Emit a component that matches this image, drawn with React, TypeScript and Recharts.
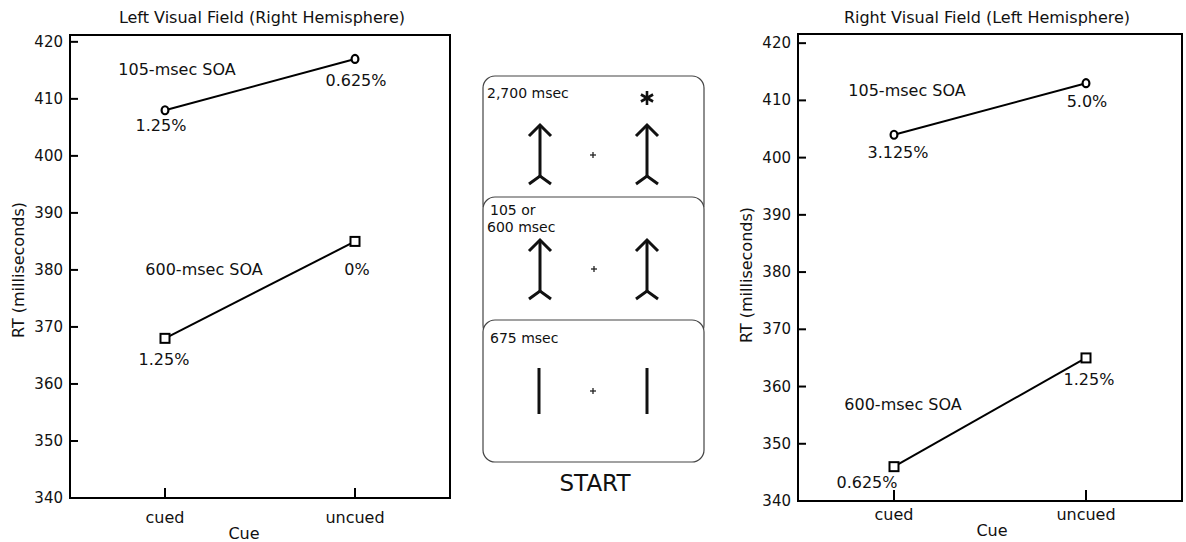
import React from 'react';
import { LineChart, Line, XAxis, YAxis, ReferenceArea } from 'recharts';

const FONT = '"DejaVu Sans", sans-serif';
const INK = '#111';

// shared axis values
const cues = ['cued', 'uncued'];
const cueIdx = [0, 1];
const rtTicks = [340, 350, 360, 370, 380, 390, 400, 410, 420];
const soaNames = ['105-msec SOA', '600-msec SOA'];

// left visual field (right hemisphere), RT in ms
const leftShort = [408, 417];
const leftLong = [368, 385];
const leftShortErr = ['1.25%', '0.625%'];
const leftLongErr = ['1.25%', '0%'];

// right visual field (left hemisphere)
const rightShort = [404, 413];
const rightLong = [346, 365];
const rightShortErr = ['3.125%', '5.0%'];
const rightLongErr = ['0.625%', '1.25%'];

type Off = [number, number];

const txt = { fontFamily: FONT, fill: INK };

function makeDot(shape: 'circle' | 'square', errs: string[], offs: Off[], name: string, nameOff: Off) {
  return (p: any) => {
    const { cx, cy, index } = p;
    if (cx == null || cy == null) return <g key={`d${index}`} />;
    return (
      <g key={`d${index}`}>
        {shape === 'circle' ? (
          <ellipse cx={cx} cy={cy} rx={3.4} ry={4} fill="#fff" stroke="#000" strokeWidth={2.2} />
        ) : (
          <rect x={cx - 4.5} y={cy - 4.5} width={9} height={9} fill="#fff" stroke="#000" strokeWidth={2} />
        )}
        <text x={cx + offs[index][0]} y={cy + offs[index][1]} textAnchor="middle" dominantBaseline="central" fontSize={16} {...txt}>
          {errs[index]}
        </text>
        {index === 0 && (
          <text x={cx + nameOff[0]} y={cy + nameOff[1]} textAnchor="middle" dominantBaseline="central" fontSize={16} {...txt}>
            {name}
          </text>
        )}
      </g>
    );
  };
}

// inward tick marks with the label outside the frame
function YTick(p: any) {
  const { x, y, payload } = p;
  return (
    <g>
      <line x1={x} y1={y} x2={x + 8} y2={y} stroke="#000" strokeWidth={2} />
      <text x={x - 7} y={y} textAnchor="end" dominantBaseline="central" fontSize={15} {...txt}>
        {payload.value}
      </text>
    </g>
  );
}

function makeXTick(len: number, gap: number) {
  return (p: any) => {
    const { x, y, payload } = p;
    return (
      <g>
        <line x1={x} y1={y} x2={x} y2={y - len} stroke="#000" strokeWidth={2} />
        <text x={x} y={y + gap} textAnchor="middle" dominantBaseline="central" fontSize={16} {...txt}>
          {cues[payload.value]}
        </text>
      </g>
    );
  };
}

type PanelProps = {
  width: number;
  margin: { top: number; right: number; bottom: number; left: number };
  xHeight: number;
  yMax: number;
  xTickLen: number;
  xLabelGap: number;
  short: number[];
  long: number[];
  shortErr: string[];
  longErr: string[];
  shortOffs: Off[];
  longOffs: Off[];
  shortName: Off;
  longName: Off;
};

function Panel(p: PanelProps) {
  const data = cueIdx.map((i) => ({ x: i, short: p.short[i], long: p.long[i] }));
  return (
    <LineChart width={p.width} height={542} data={data} margin={p.margin}>
      <ReferenceArea x1={-0.5} x2={1.5} y1={340} y2={p.yMax} fill="none" stroke="#000" strokeWidth={2} ifOverflow="visible" />
      <XAxis
        dataKey="x"
        type="number"
        domain={[-0.5, 1.5]}
        ticks={cueIdx}
        interval={0}
        height={p.xHeight}
        tickSize={0}
        tickMargin={0}
        tickLine={false}
        axisLine={{ stroke: '#000', strokeWidth: 2 }}
        tick={makeXTick(p.xTickLen, p.xLabelGap)}
      />
      <YAxis
        type="number"
        domain={[340, p.yMax]}
        ticks={rtTicks}
        interval={0}
        allowDataOverflow
        width={40}
        tickSize={0}
        tickMargin={0}
        tickLine={false}
        axisLine={{ stroke: '#000', strokeWidth: 2 }}
        tick={YTick}
      />
      <Line
        dataKey="short"
        stroke="#000"
        strokeWidth={2}
        isAnimationActive={false}
        activeDot={false}
        dot={makeDot('circle', p.shortErr, p.shortOffs, soaNames[0], p.shortName)}
      />
      <Line
        dataKey="long"
        stroke="#000"
        strokeWidth={2}
        isAnimationActive={false}
        activeDot={false}
        dot={makeDot('square', p.longErr, p.longOffs, soaNames[1], p.longName)}
      />
    </LineChart>
  );
}

function Arrow({ x, tip }: { x: number; tip: number }) {
  return (
    <g stroke="#111" strokeWidth={3} fill="none">
      <line x1={x} y1={tip} x2={x} y2={tip + 51} />
      <polyline points={`${x - 11},${tip + 11} ${x},${tip} ${x + 11},${tip + 11}`} />
      <polyline points={`${x - 11},${tip + 59} ${x},${tip + 51} ${x + 11},${tip + 59}`} />
    </g>
  );
}

function Plus({ x, y }: { x: number; y: number }) {
  return (
    <g stroke="#222" strokeWidth={1.3}>
      <line x1={x - 3} y1={y} x2={x + 3} y2={y} />
      <line x1={x} y1={y - 3} x2={x} y2={y + 3} />
    </g>
  );
}

function Overlay() {
  const star = [0, 60, 120];
  return (
    <svg width={1186} height={542} style={{ position: 'absolute', left: 0, top: 0 }}>
      <text x={262} y={17} textAnchor="middle" dominantBaseline="central" fontSize={16} {...txt}>
        Left Visual Field (Right Hemisphere)
      </text>
      <text x={987} y={17} textAnchor="middle" dominantBaseline="central" fontSize={16} {...txt}>
        Right Visual Field (Left Hemisphere)
      </text>
      <text transform="translate(18,270) rotate(-90)" textAnchor="middle" dominantBaseline="central" fontSize={16} {...txt}>
        RT (milliseconds)
      </text>
      <text transform="translate(746,275) rotate(-90)" textAnchor="middle" dominantBaseline="central" fontSize={16} {...txt}>
        RT (milliseconds)
      </text>
      <text x={244} y={533} textAnchor="middle" dominantBaseline="central" fontSize={16} {...txt}>Cue</text>
      <text x={992} y={530} textAnchor="middle" dominantBaseline="central" fontSize={16} {...txt}>Cue</text>

      {/* trial sequence panels */}
      <rect x={483} y={76} width={221} height={140} rx={12} fill="#fff" stroke="#444" strokeWidth={1.2} />
      <text x={487} y={98} fontSize={14} {...txt}>2,700 msec</text>
      <g stroke="#111" strokeWidth={2.6}>
        {star.map((a) => {
          const r = (a * Math.PI) / 180;
          return <line key={a} x1={647 - 7 * Math.sin(r)} y1={98 - 7 * Math.cos(r)} x2={647 + 7 * Math.sin(r)} y2={98 + 7 * Math.cos(r)} />;
        })}
      </g>
      <Arrow x={540} tip={125} />
      <Arrow x={647} tip={125} />
      <Plus x={593} y={155} />

      <rect x={483} y={197} width={221} height={140} rx={12} fill="#fff" stroke="#444" strokeWidth={1.2} />
      <text x={490} y={215} fontSize={14} {...txt}>105 or</text>
      <text x={487} y={232} fontSize={14} {...txt}>600 msec</text>
      <Arrow x={540} tip={240} />
      <Arrow x={647} tip={240} />
      <Plus x={594} y={269} />

      <rect x={483} y={320} width={221} height={142} rx={12} fill="#fff" stroke="#444" strokeWidth={1.2} />
      <text x={490} y={343} fontSize={14} {...txt}>675 msec</text>
      <g stroke="#111" strokeWidth={3}>
        <line x1={539} y1={368} x2={539} y2={414} />
        <line x1={647} y1={368} x2={647} y2={414} />
      </g>
      <Plus x={593} y={391} />
      <text x={595} y={491} textAnchor="middle" fontSize={23} {...txt}>START</text>
    </svg>
  );
}

export default function App() {
  return (
    <div style={{ position: 'absolute', left: 0, top: 0, width: 1186, height: 542, background: '#fff' }}>
      <Overlay />
      <div style={{ position: 'absolute', left: 0, top: 0 }}>
        <Panel
          width={460}
          margin={{ top: 35, right: 10, bottom: 4, left: 30 }}
          xHeight={40}
          yMax={421.2}
          xTickLen={10}
          xLabelGap={19}
          short={leftShort}
          long={leftLong}
          shortErr={leftShortErr}
          longErr={leftLongErr}
          shortOffs={[[-4, 15], [1, 22]]}
          longOffs={[[-1, 21], [2, 28]]}
          shortName={[12, -41]}
          longName={[39, -69]}
        />
      </div>
      <div style={{ position: 'absolute', left: 740, top: 0 }}>
        <Panel
          width={446}
          margin={{ top: 34, right: 4, bottom: 3, left: 18 }}
          xHeight={38}
          yMax={421.6}
          xTickLen={11}
          xLabelGap={13}
          short={rightShort}
          long={rightLong}
          shortErr={rightShortErr}
          longErr={rightLongErr}
          shortOffs={[[4, 18], [1, 18]]}
          longOffs={[[-27, 16], [3, 22]]}
          shortName={[13, -44]}
          longName={[9, -62]}
        />
      </div>
    </div>
  );
}
